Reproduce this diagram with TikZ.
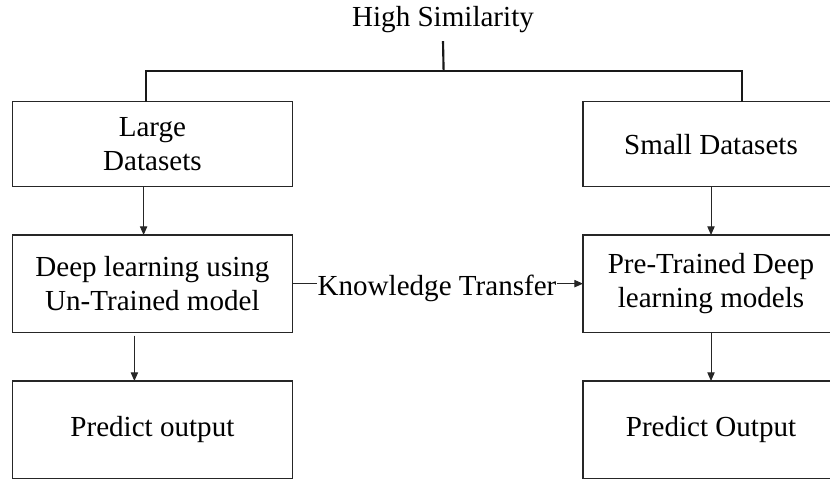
\documentclass[tikz,border=0pt]{standalone}
\usepackage{fontspec}
\setmainfont{Liberation Serif}
\usetikzlibrary{arrows.meta}
\begin{document}
\begin{tikzpicture}[x=0.75pt,y=-0.75pt,
  box/.style={draw=black!85, line width=0.95pt, outer sep=0pt, inner sep=0pt,
    align=center, font=\fontsize{21.8}{25.5}\selectfont},
  lbox/.style={box, minimum width=279.8*0.75pt},
  rbox/.style={box, minimum width=256*0.75pt},
  tall/.style={minimum height=97.3*0.75pt},
  short/.style={minimum height=84.8*0.75pt},
  bracket/.style={draw=black!90, line width=1.6pt},
  arr/.style={draw=black!85, line width=0.75pt, -{Triangle[length=6.5pt,width=5.5pt]}},
  lbl/.style={font=\fontsize{21.8}{25.5}\selectfont, inner sep=0pt}
]
\clip (0,0) rectangle (830,481);
\fill[white] (0,0) rectangle (830,481);

\node[lbl, anchor=base] (hs) at (443,26.7) {High Similarity};

\node[lbox, short] (large) at (152.4,144.1) {Large\\Datasets};
\node[rbox, short] (small) at (711,144.1) {Small Datasets};
\node[lbox, tall] (deep) at (152.4,283.65) {Deep learning using\\Un-Trained model};
\node[rbox, tall] (pre) at (711,283.65) {Pre-Trained Deep\\learning models};
\node[lbox, tall] (po1) at (152.4,429.65) {Predict output};
\node[rbox, tall] (po2) at (711,429.65) {Predict Output};

% bracket
\coordinate (j) at (443.6,71);
\draw[bracket] ([yshift=-5.85pt]hs.south) -- (j);
\draw[bracket] ([xshift=-4.65pt]large.north) |- (j) -| ([xshift=23pt]small.north);

% vertical arrows
\draw[arr] ([xshift=-6.6pt]large.south) -- ([xshift=-6.6pt]large.south |- deep.north);
\draw[arr] (small.south) -- (pre.north);
\draw[arr] ([xshift=-13.5pt,yshift=-2.5pt]deep.south) -- ([xshift=-13.5pt]deep.south |- po1.north);
\draw[arr] (pre.south) -- (po2.north);

% knowledge transfer
\node[lbl, anchor=base, inner xsep=0.5pt] (kt) at (437,295) {Knowledge Transfer};
\draw[draw=black!85, line width=0.75pt] (deep.east) -- (kt.west |- deep.east);
\draw[arr] (kt.east |- pre.west) -- (pre.west);
\end{tikzpicture}
\end{document}
